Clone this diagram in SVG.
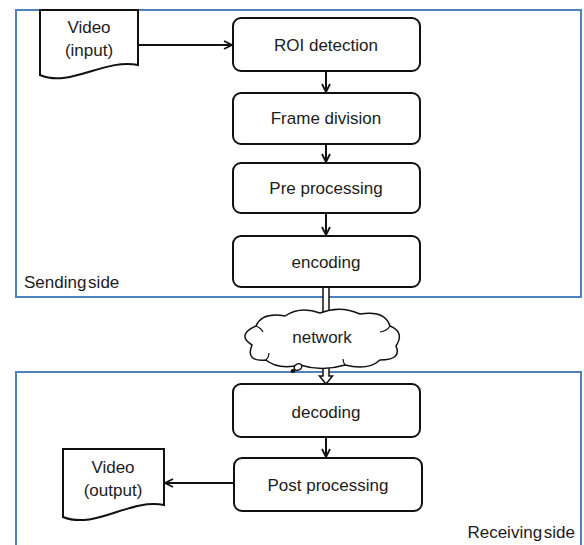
<svg xmlns="http://www.w3.org/2000/svg" width="584" height="545" viewBox="0 0 584 545">
<style>
.area{fill:#fff;stroke:#4f81bd;stroke-width:2}
.proc{fill:#fff;stroke:#111;stroke-width:2}
.doc{fill:#fff;stroke:#111;stroke-width:2}
.t{font-family:"Liberation Sans",Arial,sans-serif;font-size:17px;fill:#1c1c1c;text-anchor:middle}
.lbl{font-family:"Liberation Sans",Arial,sans-serif;font-size:17px;fill:#1c1c1c;word-spacing:-3px}
.conn{stroke:#111;stroke-width:2;fill:none}
</style>
<defs>
<marker id="arr" viewBox="0 0 10 10" refX="9" refY="5" markerWidth="10" markerHeight="10" markerUnits="userSpaceOnUse" orient="auto">
<path d="M1,1 L9,5 L1,9" fill="none" stroke="#111" stroke-width="1.8"/>
</marker>
</defs>
<g id="sending-side">
<rect class="area" x="16" y="10" width="565" height="287"/>
<text class="lbl" x="24" y="288">Sending side</text>
</g>
<g id="receiving-side">
<rect class="area" x="16" y="372" width="565" height="190"/>
<text class="lbl" x="575" y="538" text-anchor="end">Receiving side</text>
</g>
<g id="connectors">
<line class="conn" x1="138" y1="45" x2="232" y2="45" marker-end="url(#arr)"/>
<line class="conn" x1="326" y1="71" x2="326" y2="92" marker-end="url(#arr)"/>
<line class="conn" x1="326" y1="144" x2="326" y2="162" marker-end="url(#arr)"/>
<line class="conn" x1="326" y1="213" x2="326" y2="235" marker-end="url(#arr)"/>
<path d="M323,288 V376 H319.5 L326,384 L332.5,376 H329 V288" fill="#fff" stroke="#111" stroke-width="1.5"/>
<line class="conn" x1="326" y1="437" x2="326" y2="457" marker-end="url(#arr)"/>
<line class="conn" x1="234" y1="483" x2="165" y2="483" marker-end="url(#arr)"/>
</g>
<g id="video-input">
<path class="doc" d="M40,10 H138 V65 C105,58 70,88 40,75 Z"/>
<text class="t" x="89" y="33">Video</text>
<text class="t" x="89" y="56">(input)</text>
</g>
<g id="roi-detection">
<rect class="proc" x="233" y="18" width="187" height="53" rx="8"/>
<text class="t" x="326" y="51">ROI detection</text>
</g>
<g id="frame-division">
<rect class="proc" x="233" y="93" width="187" height="51" rx="8"/>
<text class="t" x="326" y="124">Frame division</text>
</g>
<g id="pre-processing">
<rect class="proc" x="233" y="163" width="187" height="50" rx="8"/>
<text class="t" x="326" y="194">Pre processing</text>
</g>
<g id="encoding">
<rect class="proc" x="233" y="236" width="187" height="51" rx="8"/>
<text class="t" x="326" y="268">encoding</text>
</g>
<g id="network">
<path d="M252,345 Q236,335 256,326 Q262,312 285,316 Q300,306 320,313 Q340,305 360,314 Q385,310 390,326 Q405,332 396,346 Q402,360 380,360 Q368,371 345,365 Q322,372 300,365 Q278,370 266,360 Q245,362 252,345 Z" fill="#fff" stroke="#111" stroke-width="1.5"/>
<path d="M256,326 q5,2 7,6 M390,326 q-3,5 -10,6 M266,360 q3,-3 3,-7 M345,365 q-2,-3 -2,-6" fill="none" stroke="#111" stroke-width="1.2"/>
<ellipse cx="298" cy="367" rx="4" ry="3" transform="rotate(-30 298 367)" fill="#fff" stroke="#111" stroke-width="1.5"/>
<ellipse cx="293" cy="371" rx="2.5" ry="2" fill="#111"/>
<text class="t" x="322" y="343">network</text>
</g>
<g id="decoding">
<rect class="proc" x="233" y="384" width="187" height="53" rx="8"/>
<text class="t" x="326" y="418">decoding</text>
</g>
<g id="post-processing">
<rect class="proc" x="234" y="458" width="188" height="53" rx="8"/>
<text class="t" x="328" y="491">Post processing</text>
</g>
<g id="video-output">
<path class="doc" d="M63,449 H164 V505 C130,498 95,530 63,517 Z"/>
<text class="t" x="113" y="473">Video</text>
<text class="t" x="113" y="496">(output)</text>
</g>
</svg>
